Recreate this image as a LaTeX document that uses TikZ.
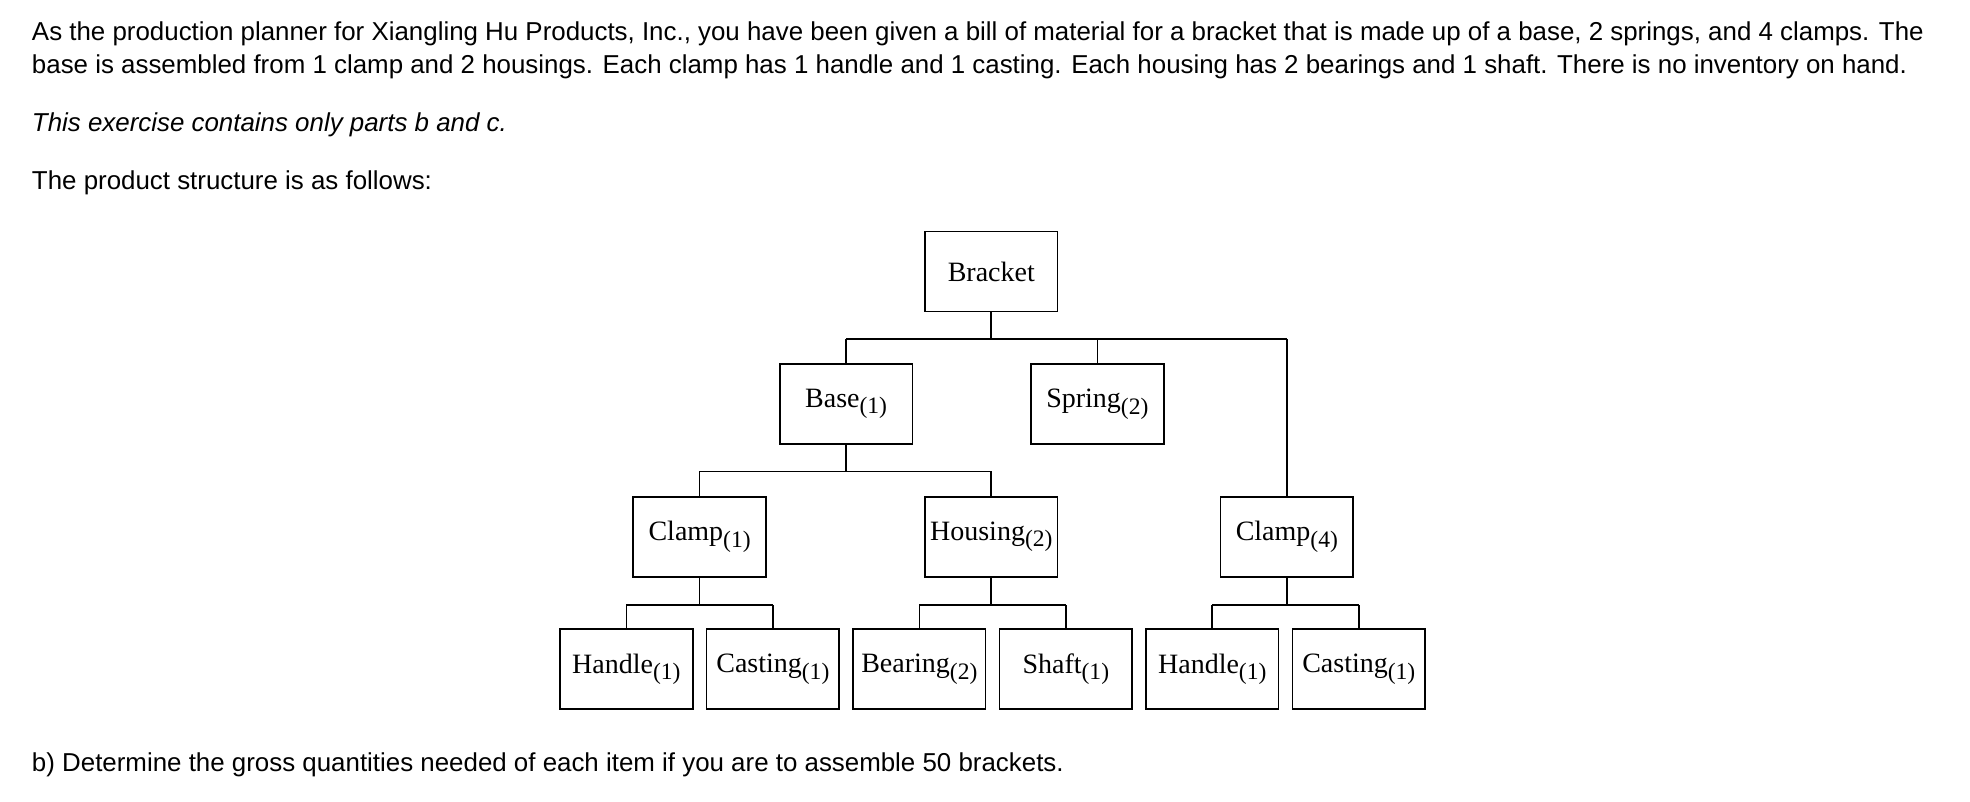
\documentclass[tikz,border=0pt]{standalone}
\usepackage{fontspec}
\setmainfont{Liberation Sans}
\newfontfamily\boxfont{Liberation Serif}
\newcommand\qsub[1]{\raisebox{-0.5ex}{\fontsize{11.2}{11}\selectfont(#1)}}
\begin{document}
\begin{tikzpicture}[x=0.6pt,y=-0.6pt,
  part/.style={draw,line width=0.8pt,minimum width=63pt,minimum height=38pt,inner sep=0pt,font=\boxfont\fontsize{13.3}{13}\selectfont},
  link/.style={line width=0.8pt},
  txt/.style={anchor=base west,inner sep=0pt,font=\fontsize{12.3}{14}\selectfont}]
\useasboundingbox (0,0) rectangle (1560,635);
\node[txt] (l1) at (25,32) {As the production planner for Xiangling Hu Products, Inc., you have been given a bill of material for a bracket that is made up of a base, 2 springs, and 4 clamps. The};
\node[txt] (l2) at (25,58) {base is assembled from 1 clamp and 2 housings. Each clamp has 1 handle and 1 casting. Each housing has 2 bearings and 1 shaft. There is no inventory on hand.};
\node[txt] (l3) at (25,104) {\itshape This exercise contains only parts b and c.};
\node[txt] (l4) at (25,150) {The product structure is as follows:};
\node[txt] (l5) at (25,611) {b) Determine the gross quantities needed of each item if you are to assemble 50 brackets.};

\node[part] (bracket) at (785,215) {Bracket};
\node[part] (base) at (670,320) {Base\qsub{1}};
\node[part] (spring) at (869,320) {Spring\qsub{2}};
\node[part] (clampa) at (554,425) {Clamp\qsub{1}};
\node[part] (housing) at (785,425) {Housing\qsub{2}};
\node[part] (clampb) at (1019,425) {Clamp\qsub{4}};
\node[part] (handlea) at (496,530) {Handle\qsub{1}};
\node[part] (castinga) at (612,530) {Casting\qsub{1}};
\node[part] (bearing) at (728,530) {Bearing\qsub{2}};
\node[part] (shaft) at (844,530) {Shaft\qsub{1}};
\node[part] (handleb) at (960,530) {Handle\qsub{1}};
\node[part] (castingb) at (1076,530) {Casting\qsub{1}};

\draw[link] (bracket.south) -- ++(0,21) coordinate (j1);
\draw[link] (j1 -| base.north) -- (j1 -| clampb.north);
\draw[link] (j1 -| base.north) -- (base.north);
\draw[link] (j1 -| spring.north) -- (spring.north);
\draw[link] (j1 -| clampb.north) -- (clampb.north);

\draw[link] (base.south) -- ++(0,21) coordinate (j2);
\draw[link] (j2 -| clampa.north) -- (j2 -| housing.north);
\draw[link] (j2 -| clampa.north) -- (clampa.north);
\draw[link] (j2 -| housing.north) -- (housing.north);

\draw[link] (clampa.south) -- ++(0,22) coordinate (j3);
\draw[link] (j3 -| handlea.north) -- (j3 -| castinga.north);
\draw[link] (j3 -| handlea.north) -- (handlea.north);
\draw[link] (j3 -| castinga.north) -- (castinga.north);

\draw[link] (housing.south) -- ++(0,22) coordinate (j4);
\draw[link] (j4 -| bearing.north) -- (j4 -| shaft.north);
\draw[link] (j4 -| bearing.north) -- (bearing.north);
\draw[link] (j4 -| shaft.north) -- (shaft.north);

\draw[link] (clampb.south) -- ++(0,22) coordinate (j5);
\draw[link] (j5 -| handleb.north) -- (j5 -| castingb.north);
\draw[link] (j5 -| handleb.north) -- (handleb.north);
\draw[link] (j5 -| castingb.north) -- (castingb.north);
\end{tikzpicture}
\end{document}
